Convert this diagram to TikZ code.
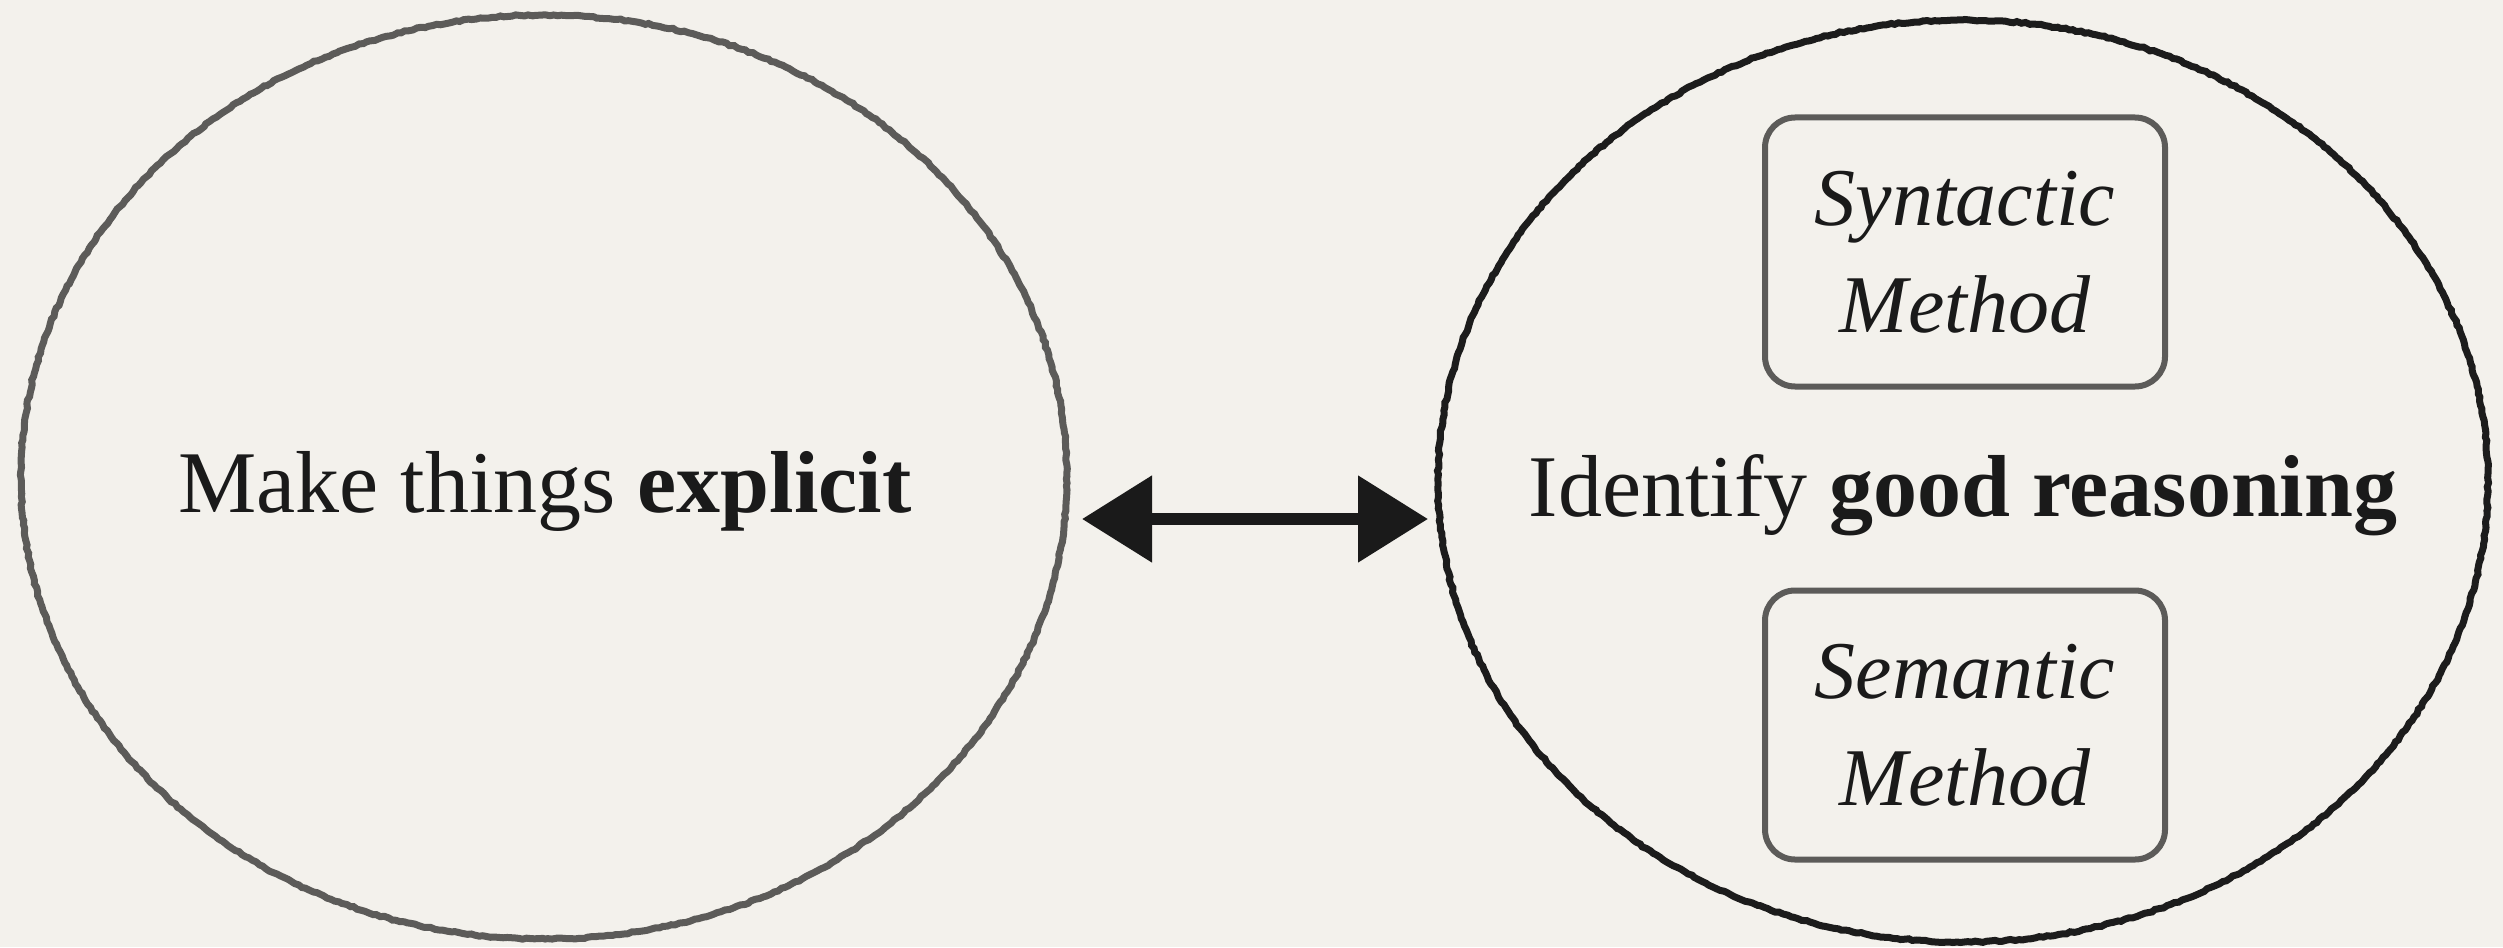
\documentclass[tikz,border=0pt]{standalone}
\usepackage{fontspec}
\setmainfont{Liberation Serif}
\usetikzlibrary{shapes.geometric,arrows.meta,decorations.pathmorphing}
\definecolor{bg}{HTML}{F3F1EC}
\definecolor{pencilgray}{HTML}{5C5B59}
\definecolor{pencilblack}{HTML}{1C1C1C}
\definecolor{inkblack}{HTML}{1A1A1A}
\tikzset{
  rough/.style={decorate,decoration={random steps,segment length=2pt,amplitude=0.4pt}},
  bigoval/.style={ellipse,draw,line width=3.5pt,inner sep=0pt,rough},
  ovallabel/.style={anchor=base,inner sep=0pt,text=inkblack,font=\fontsize{44pt}{52pt}\selectfont},
  methodbox/.style={rectangle,rounded corners=15pt,draw=pencilgray,line width=3pt,
    minimum width=200pt,minimum height=134.5pt,inner sep=0pt,
    text=inkblack,align=center,font=\fontsize{41pt}{53.5pt}\selectfont\itshape},
  linkarrow/.style={{Triangle[length=35pt,width=42pt]}-{Triangle[length=35pt,width=42pt]},
    line width=6pt,draw=inkblack,fill=inkblack}
}
\begin{document}
\pgfmathsetseed{7}
\begin{tikzpicture}[x=0.5pt,y=-0.5pt]
\fill[bg] (0,0) rectangle (2503,947);
\useasboundingbox (0,0) rectangle (2503,947);
\node[bigoval,draw=pencilgray,minimum width=523pt,minimum height=462pt] (leftOval) at (544,477) {};
\node[bigoval,draw=pencilblack,minimum width=525pt,minimum height=461pt] (rightOval) at (1963,481) {};
\node[ovallabel] (explicit) at (545,512) {Make things \textbf{explicit}};
\node[ovallabel] (reasoning) at (1963,516) {Identify \textbf{good reasoning}};
\node[methodbox] (syntactic) at (1965,252) {Syntactic\\Method};
\node[methodbox] (semantic) at (1965,725) {Semantic\\Method};
\coordinate (leftTip) at (1082,519);
\coordinate (rightTip) at (1428,519);
\draw[linkarrow] (leftTip) -- (rightTip);
\end{tikzpicture}
\end{document}
